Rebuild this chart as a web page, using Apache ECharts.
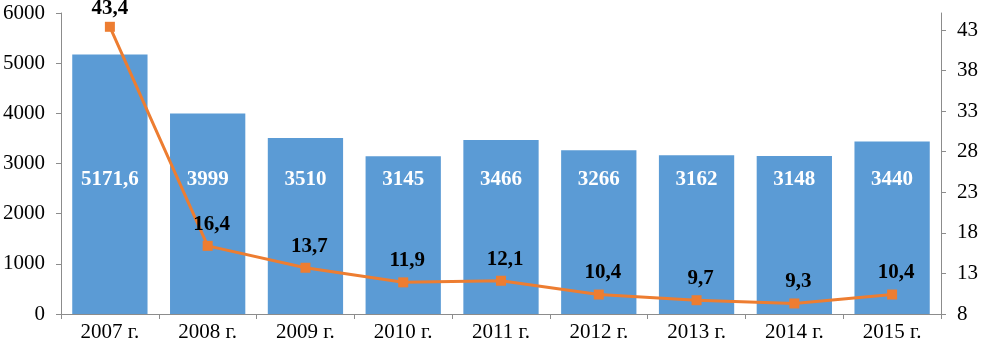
<!DOCTYPE html>
<html><head><meta charset="utf-8">
<script src="https://cdn.jsdelivr.net/npm/echarts@6/dist/echarts.min.js"></script>
<style>html,body{margin:0;padding:0;background:#fff}#c{width:981px;height:346px}</style>
</head><body><div id="c"></div>
<script>
var categories = ['2007 г.','2008 г.','2009 г.','2010 г.','2011 г.','2012 г.','2013 г.','2014 г.','2015 г.'];
var barValues = [5171.6, 3999, 3510, 3145, 3466, 3266, 3162, 3148, 3440];
var lineValues = [43.4, 16.4, 13.7, 11.9, 12.1, 10.4, 9.7, 9.3, 10.4];
var rightTicks = [8, 13, 18, 23, 28, 33, 38, 43];

var FONT = '"Liberation Serif", "Times New Roman", serif';
function fmt(v){ return String(v).replace('.', ','); }
var lineData = lineValues.map(function(v, i){
  return i === 0 ? {value: v, label: {distance: 3, offset: [0, 0]}} : v;
});
var chart = echarts.init(document.getElementById('c'));
chart.setOption({
  animation: false,
  grid: {left: 59, right: 37, top: 13, bottom: 32},
  xAxis: {
    type: 'category', data: categories,
    axisLine: {lineStyle: {color: '#8c8c8c', width: 1}},
    axisTick: {show: true, length: 5, lineStyle: {color: '#8c8c8c'}},
    axisLabel: {color: '#000', fontFamily: FONT, fontSize: 21, margin: 8}
  },
  yAxis: [{
    type: 'value', min: 0, max: 6000, interval: 1000,
    splitLine: {show: false},
    axisLine: {show: true, lineStyle: {color: '#8c8c8c'}},
    axisTick: {show: true, length: 5, lineStyle: {color: '#8c8c8c'}},
    axisLabel: {color: '#000', fontFamily: FONT, fontSize: 21, margin: 16,
      formatter: function(v){ return String(v); }}
  }, {
    type: 'value', position: 'right', min: 8, max: 45.1,
    splitLine: {show: false},
    axisLine: {show: true, lineStyle: {color: '#8c8c8c'}},
    axisTick: {show: true, length: 5, lineStyle: {color: '#8c8c8c'}, customValues: rightTicks},
    axisLabel: {color: '#000', fontFamily: FONT, fontSize: 21, margin: 16, customValues: rightTicks}
  }],
  series: [{
    type: 'bar', data: barValues, barCategoryGap: '23%',
    itemStyle: {color: '#5B9BD5'},
    label: {show: true, position: 'insideBottom', distance: 124,
      color: '#fff', fontWeight: 'bold', fontFamily: FONT, fontSize: 21,
      formatter: function(p){ return fmt(p.value); }}
  }, {
    type: 'line', yAxisIndex: 1, data: lineData,
    symbol: 'rect', symbolSize: 10,
    lineStyle: {color: '#ED7D31', width: 3},
    itemStyle: {color: '#ED7D31'},
    label: {show: true, position: 'top', distance: 6, offset: [4, 0],
      color: '#000', fontWeight: 'bold', fontFamily: FONT, fontSize: 21,
      formatter: function(p){ return fmt(p.value); }}
  }]
});
</script></body></html>
